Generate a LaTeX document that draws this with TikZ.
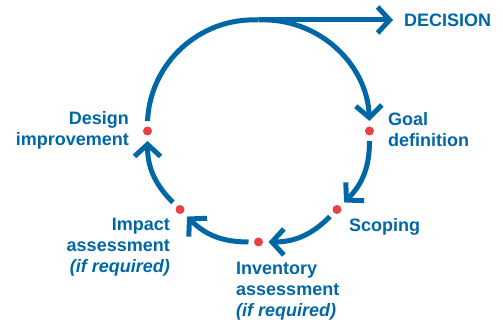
\documentclass[tikz,border=0pt]{standalone}
\usepackage{fontspec}
\setmainfont{Liberation Sans}
\usetikzlibrary{arrows.meta}
\definecolor{cycleblue}{RGB}{0,103,166}
\definecolor{dotred}{RGB}{232,64,72}

\begin{document}
\begin{tikzpicture}
  [x=1pt,y=1pt,
   dot/.style={circle,fill=dotred,inner sep=0,minimum size=9pt,outer sep=5.5pt},
   flow/.style={draw=cycleblue,line width=5pt,-{Straight Barb[length=12pt,width=26pt]}},
   lbl/.style={text=cycleblue,inner sep=0,font=\fontsize{18}{21}\selectfont\bfseries}]
  \useasboundingbox (0,0) rectangle (503,323);

  % stages round the loop
  \node[dot] (design) at (147.5,192) {};
  \node[dot] (goal) at (369.5,192) {};
  \node[dot] (scoping) at (337,113.5) {};
  \node[dot] (inventory) at (258.5,81) {};
  \node[dot] (impact) at (180,113.5) {};
  \coordinate (top) at (258.5,303);

  % labels (base anchor sits on the last line)
  \node[lbl,anchor=west,inner xsep=11pt] (decision) at (393,303) {DECISION};
  \node[lbl,anchor=base west,align=left] (goaltxt) at (388,176.3) {Goal\\definition};
  \node[lbl,anchor=base east,align=right] (designtxt) at (129,177) {Design\\improvement};
  \node[lbl,anchor=base west] (scopingtxt) at (349,91.3) {Scoping};
  \node[lbl,anchor=base west,align=left] (inventorytxt) at (236,6.3)
    {Inventory\\assessment\\{\itshape (if required)}};
  \node[lbl,anchor=base east,align=right] (impacttxt) at (170,50)
    {Impact\\assessment\\{\itshape (if required)}};

  \draw[flow,-] (design) to[bend left=45] (top);
  \draw[flow] (top) to[bend left=45] (goal);
  \draw[flow] (top) -- (decision);

  \foreach \from/\to in {goal/scoping,scoping/inventory,inventory/impact,impact/design}
    \draw[flow] (\from) to[bend left=22.5] (\to);

\end{tikzpicture}
\end{document}
